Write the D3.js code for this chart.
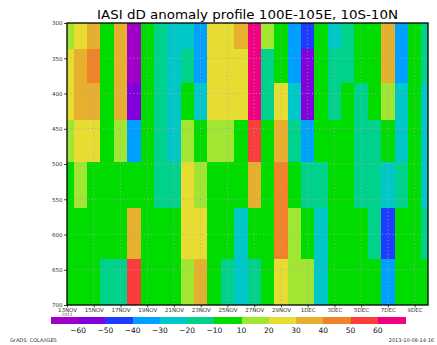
<!DOCTYPE html>
<html>
<head>
<meta charset="utf-8">
<script src="https://cdn.jsdelivr.net/npm/d3@7"></script>
<style>
  body { margin: 0; background: #fff; }
  text { font-family: "DejaVu Sans", "Liberation Sans", sans-serif; }
</style>
</head>
<body>
<script>
// IASI dD anomaly profile, daily time/pressure section
const titleText = "IASI dD anomaly profile 100E-105E, 10S-10N";
const firstDay = "2011-11-13";
const lastDay = "2011-12-10";
const yearLabel = "2011";

// pressure levels (hPa) of the profile rows, top to bottom
const levels = [313, 361, 409, 467, 527, 599, 671];
const pressureTicks = [300, 350, 400, 450, 500, 550, 600, 650, 700];
const dateTicks = ["2011-11-13", "2011-11-15", "2011-11-17", "2011-11-19", "2011-11-21",
  "2011-11-23", "2011-11-25", "2011-11-27", "2011-11-29", "2011-12-01",
  "2011-12-03", "2011-12-05", "2011-12-07", "2011-12-09"];
const dateTickLabels = ["13NOV", "15NOV", "17NOV", "19NOV", "21NOV", "23NOV", "25NOV",
  "27NOV", "29NOV", "1DEC", "3DEC", "5DEC", "7DEC", "9DEC"];

// shading levels and colours
const shadeLevels = [-60, -50, -40, -30, -20, -10, 10, 20, 30, 40, 50, 60];
const shadeColors = ["#a000c8", "#8200dc", "#1e3cff", "#00a0ff", "#00c8c8", "#00d28c",
  "#00dc00", "#a0e632", "#e6dc32", "#e6af2d", "#f08228", "#fa3c3c", "#f00082"];

// dD anomaly (permil), one row per level, one value per day 13NOV..10DEC
const anomaly313 = [15, 25, 35, 0, 35, -65, 0, -15, -25, -25, -35, 25, 25, 35, 65, 15, 0, -35, -45, 0, -25, -15, 0, 0, 35, -35, 0, -15];
const anomaly361 = [25, 35, 45, 0, 35, -65, 0, -15, -25, -15, -35, 25, 25, 25, 65, -15, 0, -35, -55, 0, -15, -15, 0, 0, 35, -35, 0, -15];
const anomaly409 = [25, 35, 35, 0, 35, -55, 0, -15, -25, 0, -25, 25, 25, 25, 65, -15, 25, -25, -55, 0, -15, 0, -15, 0, 15, -25, 0, -25];
const anomaly467 = [15, 25, 25, 0, 15, -35, 0, -15, -25, 15, 0, 15, 15, 0, 55, 0, 35, -15, -35, 0, 0, 0, -15, -15, 0, -25, 0, -25];
const anomaly527 = [0, 15, 0, 0, 0, 0, 0, -15, -15, 25, 15, 0, 0, 0, 35, 0, 45, 0, -15, -15, 0, 0, -15, -15, -25, -15, 0, -25];
const anomaly599 = [0, 0, 0, 0, 0, 35, 0, 0, 0, 25, 25, 0, 0, -25, 0, 0, 45, 15, 0, -25, 0, 0, 0, -15, -45, 0, 0, -15];
const anomaly671 = [0, 0, 0, -15, -15, 55, 0, 0, 0, 15, 35, 0, -15, -25, -15, 0, 25, 15, 15, -25, 0, 0, 0, 0, -35, 0, 0, 0];
const anomalyRows = [anomaly313, anomaly361, anomaly409, anomaly467, anomaly527, anomaly599, anomaly671];

const footerLeft = "GrADS: COLA/IGES";
const footerRight = "2013-10-08-14:16";

const W = 437, H = 345;
const plot = { left: 67, right: 428, top: 23, bottom: 305 };

const parse = d3.utcParse("%Y-%m-%d");
const days = d3.utcDay.range(parse(firstDay), d3.utcDay.offset(parse(lastDay), 1));

const x = d3.scaleUtc().domain([parse(firstDay), parse(lastDay)]).range([plot.left, plot.right]);
const y = d3.scaleLinear().domain([300, 700]).range([plot.top, plot.bottom]);
const color = d3.scaleThreshold().domain(shadeLevels).range(shadeColors);

const svg = d3.select("body").append("svg")
  .attr("width", W).attr("height", H)
  .style("display", "block");

svg.append("defs").append("clipPath").attr("id", "plot-clip")
  .append("rect")
  .attr("x", plot.left).attr("y", plot.top)
  .attr("width", plot.right - plot.left).attr("height", plot.bottom - plot.top);

// row edges halfway between levels
const edges = levels.map((p, i) => {
  const up = i === 0 ? p - (levels[1] - levels[0]) / 2 : (levels[i - 1] + p) / 2;
  const down = i === levels.length - 1 ? p + (p - levels[i - 1]) / 2 : (p + levels[i + 1]) / 2;
  return [up, down];
});

const cells = [];
anomalyRows.forEach((row, i) => {
  row.forEach((v, j) => {
    cells.push({ day: days[j], level: i, value: v });
  });
});

const halfDay = 12 * 3600 * 1000;
svg.append("g").attr("clip-path", "url(#plot-clip)")
  .attr("shape-rendering", "crispEdges")
  .selectAll("rect").data(cells).join("rect")
  .attr("x", d => x(new Date(+d.day - halfDay)))
  .attr("width", d => x(new Date(+d.day + halfDay)) - x(new Date(+d.day - halfDay)) + 0.5)
  .attr("y", d => y(edges[d.level][0]))
  .attr("height", d => y(edges[d.level][1]) - y(edges[d.level][0]) + 0.5)
  .attr("fill", d => color(d.value));

// dotted grid
const grid = svg.append("g").attr("stroke", "#aaaaaa").attr("stroke-width", 0.8)
  .attr("stroke-dasharray", "1,2.5");
grid.selectAll("line.v").data(dateTicks.slice(1)).join("line")
  .attr("x1", d => x(parse(d))).attr("x2", d => x(parse(d)))
  .attr("y1", plot.top).attr("y2", plot.bottom);
grid.selectAll("line.h").data(pressureTicks.slice(1, -1)).join("line")
  .attr("x1", plot.left).attr("x2", plot.right)
  .attr("y1", d => y(d)).attr("y2", d => y(d));

// axes
const yAxis = d3.axisLeft(y).tickValues(pressureTicks).tickSize(3).tickPadding(1.5);
svg.append("g").attr("transform", `translate(${plot.left},0)`).call(yAxis)
  .call(g => g.select(".domain").remove())
  .call(g => g.selectAll("line").attr("stroke", "#444"))
  .call(g => g.selectAll("text").attr("font-size", 5.5).attr("fill", "#333")
    .attr("font-family", "'DejaVu Sans', sans-serif"));

const xAxis = d3.axisBottom(x).tickValues(dateTicks.map(parse)).tickSize(2.5).tickPadding(0.5)
  .tickFormat((d, i) => dateTickLabels[i]);
svg.append("g").attr("transform", `translate(0,${plot.bottom})`).call(xAxis)
  .call(g => g.select(".domain").remove())
  .call(g => g.selectAll("line").attr("stroke", "#444"))
  .call(g => g.selectAll("text").attr("font-size", 5.5).attr("fill", "#333")
    .attr("font-family", "'DejaVu Sans', sans-serif"));

svg.append("text").attr("x", x(parse(firstDay))).attr("y", 316)
  .attr("text-anchor", "middle").attr("font-size", 4.5).attr("fill", "#555")
  .text(yearLabel);

// frame
svg.append("rect")
  .attr("x", plot.left).attr("y", plot.top)
  .attr("width", plot.right - plot.left).attr("height", plot.bottom - plot.top)
  .attr("fill", "none").attr("stroke", "#000").attr("stroke-width", 1.3);

// title
svg.append("text").attr("x", 247.5).attr("y", 18.5)
  .attr("text-anchor", "middle").attr("font-size", 13).attr("fill", "#000")
  .attr("textLength", 301).attr("lengthAdjust", "spacingAndGlyphs")
  .attr("font-family", "'DejaVu Sans', sans-serif")
  .text(titleText);

// colour bar
const barLeft = 51, barRight = 405, barTop = 317, barH = 7;
const boxW = (barRight - barLeft) / shadeColors.length;
const bar = svg.append("g").attr("shape-rendering", "crispEdges");
bar.selectAll("rect").data(shadeColors).join("rect")
  .attr("x", (d, i) => barLeft + i * boxW).attr("y", barTop)
  .attr("width", boxW + 0.5).attr("height", barH)
  .attr("fill", d => d);
svg.append("g").selectAll("text").data(shadeLevels).join("text")
  .attr("x", (d, i) => barLeft + (i + 1) * boxW)
  .attr("y", 332.5)
  .attr("text-anchor", "middle").attr("font-size", 7.5).attr("fill", "#111")
  .text(d => d < 0 ? "\u2212" + Math.abs(d) : String(d));

// footer
svg.append("text").attr("x", 10).attr("y", 342).attr("font-size", 5).attr("fill", "#333")
  .text(footerLeft);
svg.append("text").attr("x", 434).attr("y", 342).attr("text-anchor", "end")
  .attr("font-size", 5).attr("fill", "#333").text(footerRight);
</script>
</body>
</html>
